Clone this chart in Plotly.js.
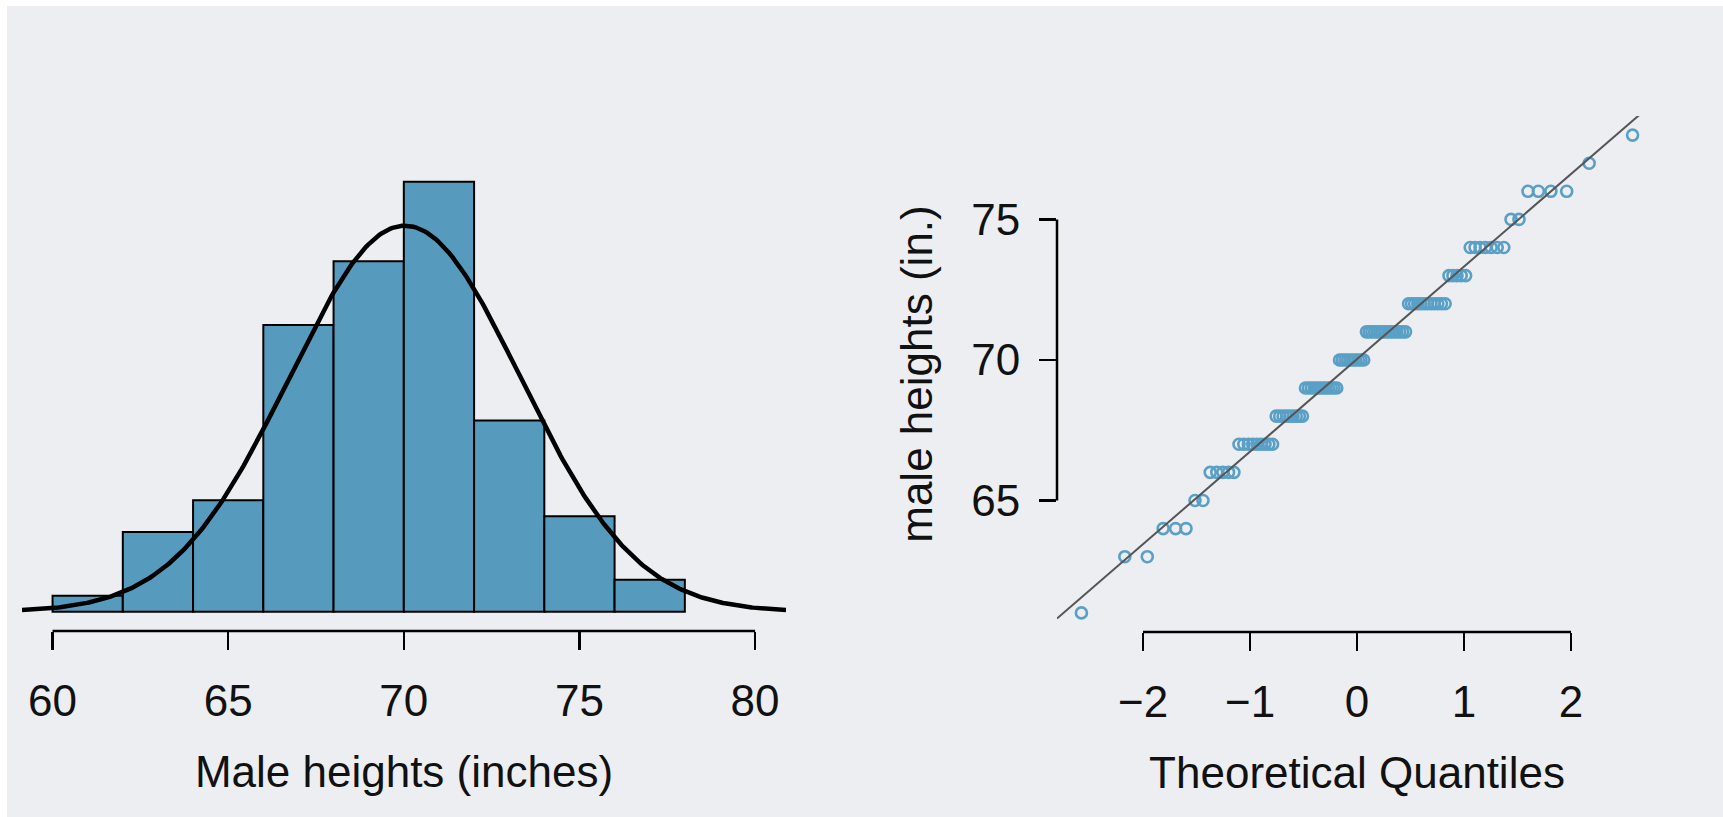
<!DOCTYPE html>
<html><head><meta charset="utf-8">
<script src="https://cdn.plot.ly/plotly-3.0.1.min.js"></script>
<style>html,body{margin:0;padding:0;background:#fff;} #chart{width:1723px;height:817px;}</style>
</head><body><div id="chart"></div>
<script>
// ---- data ----
// Histogram of male heights (inches), bins of 2 inches, right-closed
const binEdges = [60, 62, 64, 66, 68, 70, 72, 74, 76, 78];
const binCounts = [1, 5, 7, 18, 22, 27, 12, 6, 2];
// Individual heights (whole inches) and how many men have each height
const heightValues = [61, 63, 64, 65, 66, 67, 68, 69, 70, 71, 72, 73, 74, 75, 76, 77, 78];
const heightCounts = [1, 2, 3, 2, 5, 9, 9, 12, 10, 15, 12, 5, 7, 2, 4, 1, 1];
// Tick labels
const histTicks = [60, 65, 70, 75, 80];
const qqXTicks = [-2, -1, 0, 1, 2];
const qqYTicks = [65, 70, 75];

// ---- derived ----
const heights = [];
heightValues.forEach((v, i) => { for (let k = 0; k < heightCounts[i]; k++) heights.push(v); });
heights.sort((a, b) => a - b);
const n = heights.length;
const mean = heights.reduce((s, v) => s + v, 0) / n;
const sd = Math.sqrt(heights.reduce((s, v) => s + (v - mean) * (v - mean), 0) / (n - 1));

function qnorm(p) {
  const a = [-3.969683028665376e+01, 2.209460984245205e+02, -2.759285104469687e+02, 1.383577518672690e+02, -3.066479806614716e+01, 2.506628277459239e+00];
  const b = [-5.447609879822406e+01, 1.615858368580409e+02, -1.556989798598866e+02, 6.680131188771972e+01, -1.328068155288572e+01];
  const c = [-7.784894002430293e-03, -3.223964580411365e-01, -2.400758277161838e+00, -2.549732539343734e+00, 4.374664141464968e+00, 2.938163982698783e+00];
  const d = [7.784695709041462e-03, 3.224671290700398e-01, 2.445134137142996e+00, 3.754408661907416e+00];
  const pl = 0.02425, ph = 1 - pl; let q, r;
  if (p < pl) { q = Math.sqrt(-2 * Math.log(p)); return (((((c[0]*q+c[1])*q+c[2])*q+c[3])*q+c[4])*q+c[5]) / ((((d[0]*q+d[1])*q+d[2])*q+d[3])*q+1); }
  if (p <= ph) { q = p - 0.5; r = q*q; return (((((a[0]*r+a[1])*r+a[2])*r+a[3])*r+a[4])*r+a[5])*q / (((((b[0]*r+b[1])*r+b[2])*r+b[3])*r+b[4])*r+1); }
  q = Math.sqrt(-2 * Math.log(1 - p)); return -(((((c[0]*q+c[1])*q+c[2])*q+c[3])*q+c[4])*q+c[5]) / ((((d[0]*q+d[1])*q+d[2])*q+d[3])*q+1);
}
const theo = heights.map((v, i) => qnorm((i + 1 - 0.5) / n));

const binMid = binCounts.map((c, i) => (binEdges[i] + binEdges[i + 1]) / 2);
const binW = binCounts.map((c, i) => binEdges[i + 1] - binEdges[i]);
const bw = binEdges[1] - binEdges[0];

// ---- layout geometry ----
const W = 1723, H = 817;
const px = v => v / W, py = v => 1 - v / H;
const histRange = [59.13, 80.88];
const histDom = [px(22), px(786)];
const histYRange = [-1.21, 28.36];
const histYDom = [py(631), py(160)];
const qqXRange = [-2.804, 2.804];
const qqXDom = [px(1057), px(1657)];
const qqYRange = [60.32, 78.68];
const qqYDom = [py(632), py(116)];
const toPaper = (v, r, d) => d[0] + (v - r[0]) / (r[1] - r[0]) * (d[1] - d[0]);

const curveX = [], curveY = [];
for (let k = 0; k <= 400; k++) {
  const x = histRange[0] + (histRange[1] - histRange[0]) * k / 400;
  curveX.push(x);
  curveY.push(n * bw * Math.exp(-0.5 * ((x - mean) / sd) ** 2) / (sd * Math.sqrt(2 * Math.PI)));
}

const FONT = 'Liberation Sans, Arial, Helvetica, sans-serif';
const FS = 44;
const BLUE = '#569BBD';

const traces = [
  { type: 'bar', x: binMid, y: binCounts, width: binW, xaxis: 'x', yaxis: 'y',
    marker: { color: BLUE, line: { color: '#000', width: 2 } }, hoverinfo: 'skip' },
  { type: 'scatter', mode: 'lines', x: curveX, y: curveY, xaxis: 'x', yaxis: 'y',
    line: { color: '#000', width: 4.5 }, hoverinfo: 'skip' },
  { type: 'scatter', mode: 'markers', x: theo, y: heights, xaxis: 'x2', yaxis: 'y2',
    marker: { symbol: 'circle-open', size: 11, color: '#5a9fc6', line: { width: 2.6, color: '#5a9fc6' } }, hoverinfo: 'skip' },
  { type: 'scatter', mode: 'lines', x: qqXRange, y: qqXRange.map(z => mean + sd * z), xaxis: 'x2', yaxis: 'y2',
    line: { color: '#555', width: 2 }, hoverinfo: 'skip' }
];

const axCommon = { showgrid: false, zeroline: false, showline: false, ticks: 'outside', tickcolor: '#000',
  tickwidth: 2.5, tickfont: { family: FONT, size: FS, color: '#111' }, fixedrange: true };

const layout = {
  width: W, height: H, margin: { l: 0, r: 0, t: 0, b: 0 },
  paper_bgcolor: '#ffffff', plot_bgcolor: 'rgba(0,0,0,0)', showlegend: false, bargap: 0,
  xaxis: Object.assign({}, axCommon, { domain: histDom, range: histRange, anchor: 'y', tickvals: histTicks,
    ticklen: 18, ticklabelstandoff: 13,
    title: { text: 'Male heights (inches)', font: { family: FONT, size: FS, color: '#111' }, standoff: 32 } }),
  yaxis: { domain: histYDom, range: histYRange, anchor: 'x', visible: false, fixedrange: true },
  xaxis2: Object.assign({}, axCommon, { domain: qqXDom, range: qqXRange, anchor: 'y2', tickvals: qqXTicks,
    ticklen: 18, ticklabelstandoff: 13,
    title: { text: 'Theoretical Quantiles', font: { family: FONT, size: FS, color: '#111' }, standoff: 32 } }),
  yaxis2: Object.assign({}, axCommon, { domain: qqYDom, range: qqYRange, anchor: 'x2', tickvals: qqYTicks,
    ticklen: 17, ticklabelstandoff: 10,
    title: { text: 'male heights (in.)', font: { family: FONT, size: FS, color: '#111' }, standoff: 24 } }),
  shapes: [
    { type: 'rect', xref: 'paper', yref: 'paper', x0: px(7), x1: 1, y0: 0, y1: py(6),
      fillcolor: '#eceef1', line: { width: 0 }, layer: 'below' },
    { type: 'line', xref: 'paper', yref: 'paper',
      x0: toPaper(histTicks[0], histRange, histDom), x1: toPaper(histTicks[histTicks.length - 1], histRange, histDom),
      y0: histYDom[0], y1: histYDom[0], line: { color: '#000', width: 2.5 } },
    { type: 'line', xref: 'paper', yref: 'paper',
      x0: toPaper(qqXTicks[0], qqXRange, qqXDom), x1: toPaper(qqXTicks[qqXTicks.length - 1], qqXRange, qqXDom),
      y0: qqYDom[0], y1: qqYDom[0], line: { color: '#000', width: 2.5 } },
    { type: 'line', xref: 'paper', yref: 'paper', x0: qqXDom[0], x1: qqXDom[0],
      y0: toPaper(qqYTicks[0], qqYRange, qqYDom), y1: toPaper(qqYTicks[qqYTicks.length - 1], qqYRange, qqYDom),
      line: { color: '#000', width: 2.5 } }
  ]
};

Plotly.newPlot('chart', traces, layout, { staticPlot: true, displayModeBar: false });
</script></body></html>
